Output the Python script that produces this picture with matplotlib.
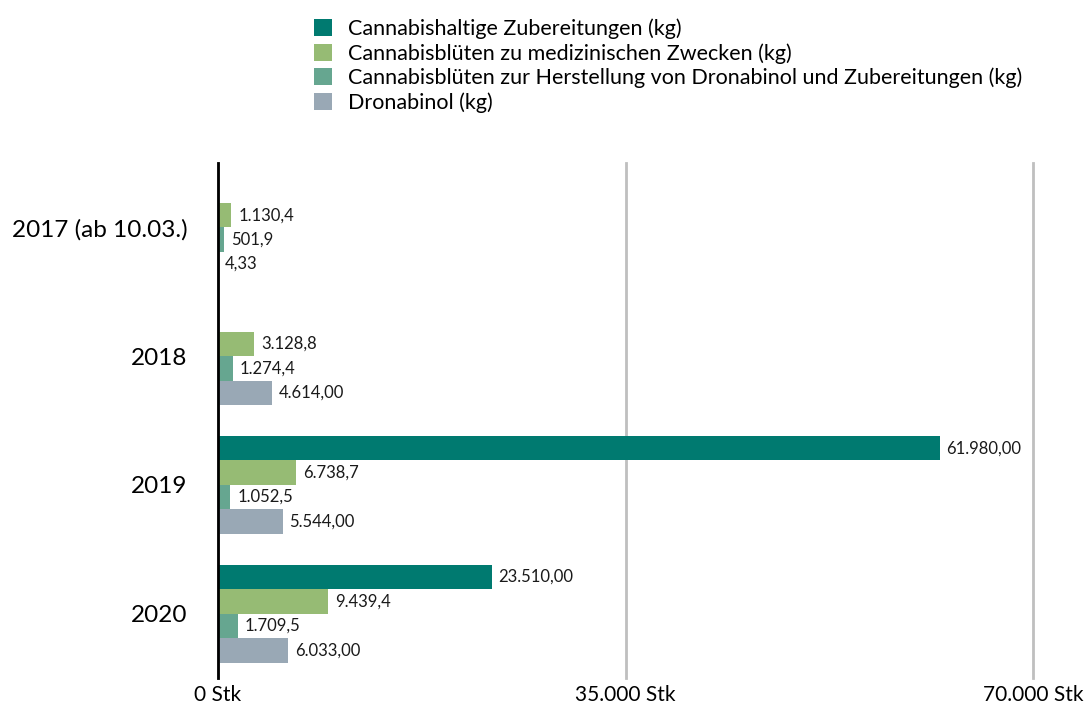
import numpy as np
import matplotlib.pyplot as plt

plt.rcParams['font.family'] = ['Lato', 'DejaVu Sans']

# Daten
jahre = ['2017 (ab 10.03.)', '2018', '2019', '2020']
serien = ['Cannabishaltige Zubereitungen (kg)',
          'Cannabisblüten zu medizinischen Zwecken (kg)',
          'Cannabisblüten zur Herstellung von Dronabinol und Zubereitungen (kg)',
          'Dronabinol (kg)']
zubereitungen = [np.nan, np.nan, 61980.00, 23510.00]
blueten_med = [1130.4, 3128.8, 6738.7, 9439.4]
blueten_herst = [501.9, 1274.4, 1052.5, 1709.5]
dronabinol = [4.33, 4614.00, 5544.00, 6033.00]
nachkomma = [2, 1, 1, 2]
x_ticks = [0, 35000, 70000]
x_ticklabels = ['0 Stk', '35.000 Stk', '70.000 Stk']

farben = ['#007A70', '#96BB74', '#66A690', '#99A8B5']


def de_format(v, d):
    s = f'{v:,.{d}f}'
    return s.replace(',', 'X').replace('.', ',').replace('X', '.')


fig = plt.figure(figsize=(10.88, 7.09), dpi=100)
ax = fig.add_axes([218 / 1088, 1 - 678 / 709, 815 / 1088, 515 / 709])

werte = [zubereitungen, blueten_med, blueten_herst, dronabinol]
y = np.arange(len(jahre))
h = 0.19
for i, (vals, name) in enumerate(zip(werte, serien)):
    pos = y + (i - 1.5) * h
    vals = np.array(vals, dtype=float)
    ax.barh(pos, np.nan_to_num(vals), height=h, color=farben[i], label=name)
    for p, v in zip(pos, vals):
        if np.isnan(v):
            continue
        ax.annotate(de_format(v, nachkomma[i]), (v, p), xytext=(5, 0),
                    textcoords='offset points', va='center', ha='left',
                    fontsize=12, color='#1a1a1a')

ax.set_xlim(0, 70000)
ax.set_ylim(3.5, -0.5)
ax.set_yticks(y)
ax.set_yticklabels(jahre, fontsize=17.5)
ax.set_xticks(x_ticks)
ax.set_xticklabels(x_ticklabels, fontsize=15)
ax.tick_params(length=0, pad=5)
ax.tick_params(axis='y', pad=22)

for s in ['top', 'right', 'bottom']:
    ax.spines[s].set_visible(False)
ax.spines['left'].set_linewidth(2)
ax.spines['left'].set_color('black')
ax.spines['left'].set_zorder(5)

ax.grid(axis='x', color='#BFBFBF', linewidth=2)
ax.set_axisbelow(True)
for gl in ax.get_xgridlines():
    gl.set_clip_on(False)

fig.legend(loc='upper left', bbox_to_anchor=(305 / 1088, 1 - 10 / 709),
           frameon=False, fontsize=15.5, handlelength=0.85, handleheight=0.85,
           handletextpad=0.75, labelspacing=0.18, borderaxespad=0)

fig.savefig('out.png', dpi=100)
